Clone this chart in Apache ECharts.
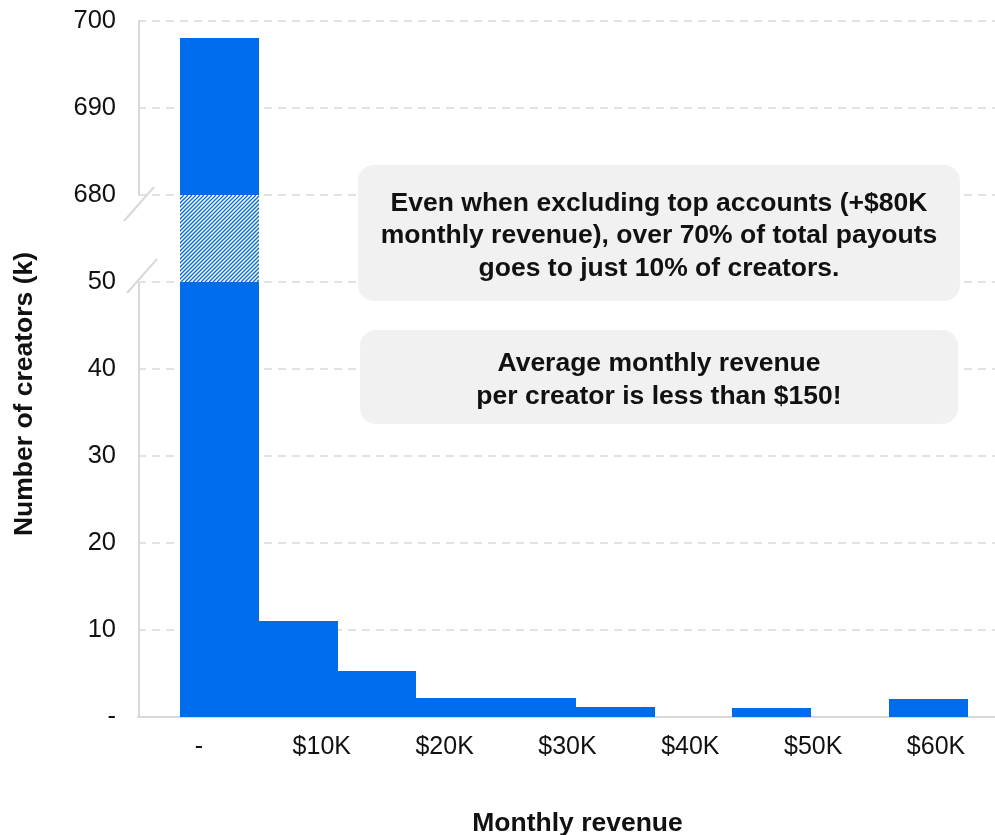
<!DOCTYPE html>
<html>
<head>
<meta charset="utf-8">
<script src="https://cdn.jsdelivr.net/npm/echarts@6/dist/echarts.min.js"></script>
<style>
  html, body { margin: 0; padding: 0; background: #ffffff; }
  #chart { width: 995px; height: 835px; }
</style>
</head>
<body>
<div id="chart"></div>
<script>
// Histogram of creators by monthly revenue (in $K), counts in thousands.
const binEdges = [-1.55, 4.88, 11.31, 17.66, 24.08, 30.67, 37.1, 43.37, 49.8, 56.14, 62.57];
const creatorCounts = [698, 11.05, 5.3, 2.2, 2.2, 1.15, 0, 1.03, 0, 2.07];
const xTickValues = [0, 10, 20, 30, 40, 50, 60];
const yTickLabels = ['-', '10', '20', '30', '40', '50', '680', '690', '700'];
const axisBreak = { from: 50, to: 680 };   // gap on the count axis
const notes = [
  'Even when excluding top accounts (+$80K\nmonthly revenue), over 70% of total payouts\ngoes to just 10% of creators.',
  'Average monthly revenue\nper creator is less than $150!'
];

const BLUE = '#006ceb';
const GRID = '#d9d9d9';
const FONT = '"Liberation Sans", Arial, sans-serif';
const HATCH_STEP = 4;

// Map a real count onto the broken axis: the break region takes one tick step.
const BREAK_SPAN = 10;
function toAxis(v) {
  if (v <= axisBreak.from) return v;
  if (v >= axisBreak.to) return v - axisBreak.to + axisBreak.from + BREAK_SPAN;
  return axisBreak.from + (v - axisBreak.from) / (axisBreak.to - axisBreak.from) * BREAK_SPAN;
}

const barData = creatorCounts.map((v, i) => [binEdges[i], binEdges[i + 1], v]);

const chart = echarts.init(document.getElementById('chart'), null, { renderer: 'canvas' });

chart.setOption({
  animation: false,
  backgroundColor: '#ffffff',
  grid: { left: 138, right: 0, top: 21, bottom: 118, containLabel: false, outerBoundsMode: 'none' },
  xAxis: {
    type: 'value',
    min: -4.96,
    max: 64.8,
    name: 'Monthly revenue',
    nameLocation: 'middle',
    nameGap: 93,
    nameTextStyle: { fontFamily: FONT, fontWeight: 'bold', fontSize: 26.5, color: '#111', padding: [0, 0, 0, 22] },
    axisLine: { show: true, onZero: false, lineStyle: { color: GRID, width: 2 } },
    axisTick: { show: false },
    splitLine: { show: false },
    axisLabel: {
      customValues: xTickValues,
      margin: 18,
      fontFamily: FONT,
      fontSize: 25,
      color: '#111',
      formatter: v => (v === 0 ? '-' : '$' + v + 'K')
    }
  },
  yAxis: {
    type: 'value',
    min: 0,
    max: 80,
    interval: 10,
    name: 'Number of creators (k)',
    nameLocation: 'middle',
    nameGap: 100,
    nameTextStyle: { fontFamily: FONT, fontWeight: 'bold', fontSize: 26.5, color: '#111', padding: [0, 50, 0, 0] },
    axisLine: { show: false },
    axisTick: { show: false },
    axisLabel: {
      margin: 22,
      fontFamily: FONT,
      fontSize: 25.5,
      color: '#111',
      formatter: v => yTickLabels[Math.round(v / 10)]
    },
    splitLine: {
      show: true,
      lineStyle: { color: GRID, width: 1.5, type: [8, 6] }
    }
  },
  series: [{
    type: 'custom',
    data: barData,
    encode: { x: [0, 1], y: 2 },
    renderItem: function (params, api) {
      const x0 = api.value(0), x1 = api.value(1), v = api.value(2);
      if (v <= 0) return null;
      const box = (lo, hi) => {
        const p0 = api.coord([x0, toAxis(lo)]);
        const p1 = api.coord([x1, toAxis(hi)]);
        const left = Math.round(p0[0]), right = Math.round(p1[0]);
        const topY = Math.round(p1[1]), baseY = Math.round(p0[1]);
        return { x: left, y: topY, width: right - left, height: baseY - topY };
      };
      const solid = (lo, hi) => ({ type: 'rect', shape: box(lo, hi), style: { fill: BLUE } });
      if (v <= axisBreak.from) return solid(0, v);

      // Hatched segment standing in for the skipped range of the axis.
      const hb = box(axisBreak.from, axisBreak.to);
      const stripes = [{ type: 'rect', shape: hb, style: { fill: '#ffffff' } }];
      for (let k = -hb.height; k < hb.width + HATCH_STEP; k += HATCH_STEP) {
        stripes.push({
          type: 'line',
          shape: { x1: hb.x + k, y1: hb.y + hb.height, x2: hb.x + k + hb.height, y2: hb.y },
          style: { stroke: BLUE, lineWidth: 1.3 }
        });
      }
      return {
        type: 'group',
        children: [
          solid(0, axisBreak.from),
          { type: 'group', clipPath: { type: 'rect', shape: hb }, children: stripes },
          solid(axisBreak.to, v)
        ]
      };
    }
  }]
});

// Left axis line, interrupted at the break, with slash marks; note boxes.
function drawAxisDecor() {
  const xMin = -4.96;
  const top = chart.convertToPixel({ gridIndex: 0 }, [xMin, 80]);
  const upper = chart.convertToPixel({ gridIndex: 0 }, [xMin, toAxis(axisBreak.to)]);
  const lower = chart.convertToPixel({ gridIndex: 0 }, [xMin, toAxis(axisBreak.from)]);
  const bottom = chart.convertToPixel({ gridIndex: 0 }, [xMin, 0]);
  const ax = Math.round(top[0]) + 1;
  const lineStyle = { stroke: GRID, lineWidth: 2 };
  const slash = (cx, cy) => ({
    type: 'line',
    shape: { x1: cx - 15, y1: cy + 17, x2: cx + 15, y2: cy - 17 },
    style: lineStyle
  });
  const boxes = [
    { x: 358, y: 165, w: 602, h: 136, text: notes[0] },
    { x: 360, y: 330, w: 598, h: 94, text: notes[1] }
  ];
  const graphics = [
    { type: 'line', shape: { x1: ax, y1: top[1], x2: ax, y2: upper[1] }, style: lineStyle },
    { type: 'line', shape: { x1: ax, y1: lower[1], x2: ax, y2: bottom[1] }, style: lineStyle },
    slash(ax, upper[1] + 9),
    slash(ax + 3, lower[1] - 6)
  ];
  boxes.forEach(b => {
    graphics.push({
      type: 'rect',
      shape: { x: b.x, y: b.y, width: b.w, height: b.h, r: 16 },
      style: { fill: '#f1f1f1' },
      z: 10
    });
    graphics.push({
      type: 'text',
      x: b.x + b.w / 2,
      y: b.y + b.h / 2 + 3,
      style: {
        text: b.text,
        fontFamily: FONT,
        fontWeight: 'bold',
        fontSize: 26.5,
        lineHeight: 32.5,
        fill: '#111',
        align: 'center',
        verticalAlign: 'middle'
      },
      z: 11
    });
  });
  chart.setOption({ graphic: graphics });
}
drawAxisDecor();
</script>
</body>
</html>
